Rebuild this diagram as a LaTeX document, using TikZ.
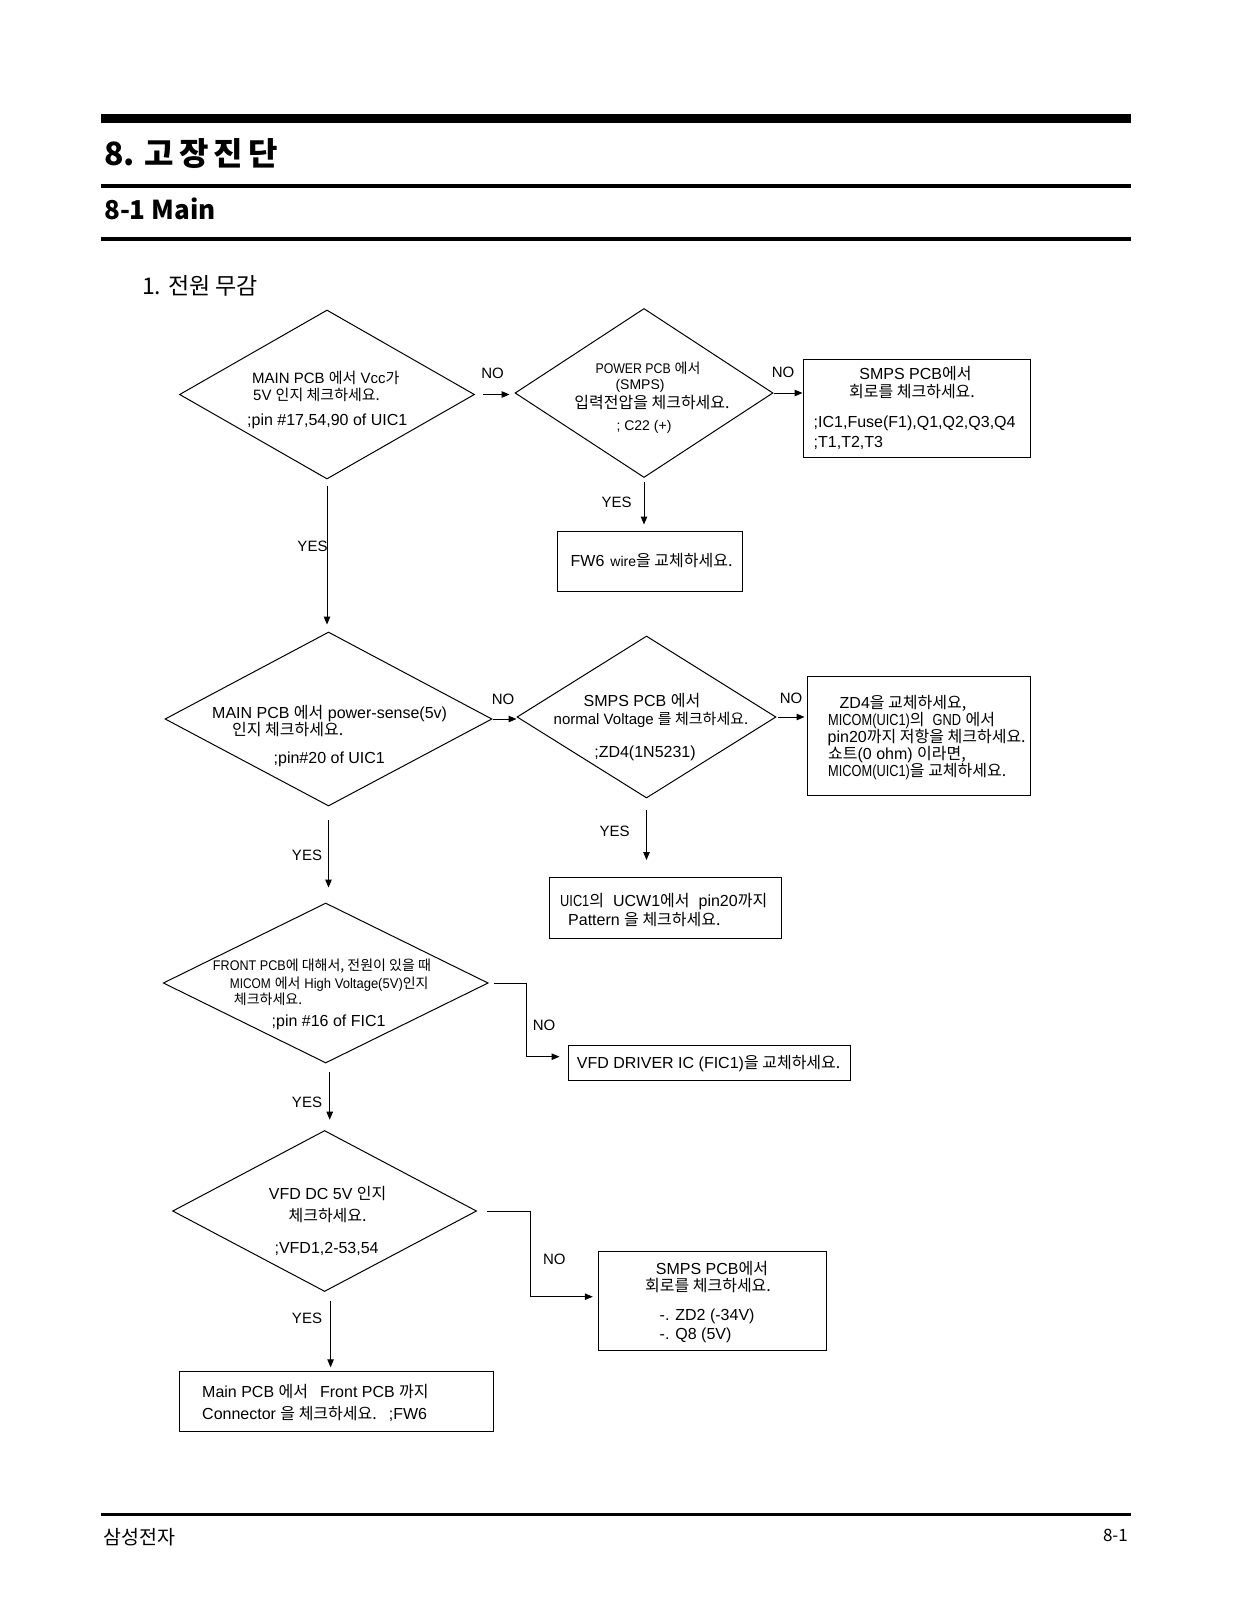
\documentclass[tikz,border=0pt]{standalone}
\usepackage{fontspec}
\usepackage{graphicx}
\setmainfont{Liberation Sans}
\newfontfamily\krf{Noto Sans CJK KR}[Scale=1.0]
\newfontfamily\krt{Noto Sans CJK KR}
\usetikzlibrary{shapes.geometric,arrows.meta,calc}
\newcommand\K[1]{{\krf #1}}
\newcommand\cnd[2]{\scalebox{#1}[1]{#2}}
\tikzset{
  dia/.style={draw, line width=1pt, diamond, inner sep=0pt, shape aspect=1},
  box/.style={draw, line width=1pt, inner sep=0pt},
  arr/.style={line width=1pt, -{Triangle[length=8pt,width=6.5pt]}},
  tl/.style={inner sep=0pt, anchor=base west},
  tc/.style={inner sep=0pt, anchor=base},
  tr/.style={inner sep=0pt, anchor=base east},
  f13/.style={font=\fontsize{13}{15}\selectfont},
  f14/.style={font=\fontsize{14}{16}\selectfont},
  f15/.style={font=\fontsize{15}{17}\selectfont},
  f16/.style={font=\fontsize{16}{19}\selectfont},
  bar/.style={fill=black},
}
\begin{document}
\begin{tikzpicture}[x=1pt,y=-1pt]
\useasboundingbox (0,0) rectangle (1235,1600);
\fill[white] (0,0) rectangle (1235,1600);

% header
\fill[bar] (101,114) rectangle (1131,122.7);
\fill[bar] (101,183.5) rectangle (1131,187.5);
\fill[bar] (101,236.7) rectangle (1131,240.7);
\node[tl, font={\krt\bfseries\fontsize{32}{36}\selectfont}] (title) at (104,165) {8.\hspace{10pt}고\hspace{5pt}장\hspace{5pt}진\hspace{5pt}단};
\node[tl, font={\krt\bfseries\fontsize{26}{30}\selectfont}] (sub) at (104,219) {8-1 Main};
\node[tl, font={\krt\fontsize{23}{26}\selectfont}] (sec) at (142,294) {1. 전원 무감};

% shapes
\node[dia, minimum width=295pt, minimum height=169pt] (D1) at (327,394.5) {};
\node[dia, minimum width=258pt, minimum height=169pt] (D2) at (644,393) {};
\node[box, minimum width=227pt, minimum height=98pt] (B1) at (916.5,408) {};
\node[box, minimum width=185pt, minimum height=60pt] (B2) at (650,561) {};
\node[dia, minimum width=327pt, minimum height=174pt] (D3) at (328.5,719) {};
\node[dia, minimum width=259pt, minimum height=162pt] (D4) at (646.5,717) {};
\node[box, minimum width=223pt, minimum height=119pt] (B3) at (919,736) {};
\node[box, minimum width=232pt, minimum height=60.5pt] (B4) at (665,907.75) {};
\node[dia, minimum width=325pt, minimum height=160pt] (D5) at (325.7,983) {};
\node[box, minimum width=282pt, minimum height=35pt] (B5) at (709,1062.5) {};
\node[dia, minimum width=304pt, minimum height=161pt] (D6) at (324.6,1211) {};
\node[box, minimum width=228.4pt, minimum height=99pt] (B6) at (712.5,1300.5) {};
\node[box, minimum width=313.4pt, minimum height=59.2pt] (B7) at (336.3,1401.4) {};

% connectors
\draw[arr, shorten <=8pt, shorten >=5pt] (D1.east) -- (D1.east -| D2.west);
\draw[arr] (D2.east) -- (D2.east -| B1.west);
\draw[arr, shorten <=4pt, shorten >=6pt] (D2.south) -- (D2.south |- B2.north);
\draw[arr, shorten <=6pt, shorten >=7pt] (D1.south) -- (D1.south |- D3.north);
\draw[arr] (D3.east) -- (D3.east -| D4.west);
\draw[arr, shorten <=1.5pt, shorten >=2.5pt] (D4.east) -- (D4.east -| B3.west);
\draw[arr, shorten <=11pt, shorten >=17pt] (D4.south) -- (D4.south |- B4.north);
\draw[arr, shorten <=13.6pt, shorten >=15pt] (D3.south) -- (D3.south |- D5.north);
\coordinate (e5) at (526,1056.7);
\draw[arr, shorten <=5pt, shorten >=8pt] (D5.east) -| (e5) -- (e5 -| B5.west);
\draw[arr, shorten <=8.7pt, shorten >=10.3pt] ([xshift=4pt]D5.south) -- ([xshift=4pt]D5.south |- D6.north);
\coordinate (e6) at (530,1296.7);
\draw[arr, shorten <=10pt, shorten >=5pt] (D6.east) -| (e6) -- (e6 -| B6.west);
\draw[arr, shorten <=9.4pt, shorten >=4pt] ([xshift=6pt]D6.south) -- ([xshift=6pt]D6.south |- B7.north);

% labels
\node[tc, f15] (n1) at (492.5,378.3) {NO};
\node[tc, f15] (n2) at (783,377) {NO};
\node[tc, f15] (y2) at (616.5,507.3) {YES};
\node[tc, f15] (y1) at (312.5,551.3) {YES};
\node[tc, f15] (n3) at (503,704.3) {NO};
\node[tc, f15] (n4) at (791,703.3) {NO};
\node[tc, f15] (y4) at (614.5,836.3) {YES};
\node[tc, f15] (y3) at (307,860.3) {YES};
\node[tc, f15] (n5) at (544,1030.3) {NO};
\node[tc, f15] (y5) at (307,1107.3) {YES};
\node[tc, f15] (n6) at (554.3,1264.6) {NO};
\node[tc, f15] (y6) at (307,1323) {YES};

% D1 text
\node[tl, f15] (d1a) at (252,383.3) {MAIN PCB \K{에서} Vcc\K{가}};
\node[tl, f15] (d1b) at (253,400.3) {5V \K{인지 체크하세요.}};
\node[tl, f16] (d1c) at (247,425.6) {;pin \#17,54,90 of UIC1};
% D2 text
\node[tc, f14] (d2a) at (648,373.5) {\cnd{0.88}{POWER PCB} \K{에서}};
\node[tc, f14] (d2b) at (640,389) {(SMPS)};
\node[tc, f16] (d2c) at (652,408.7) {\K{입력전압을 체크하세요.}};
\node[tc, f14] (d2d) at (644,430) {; C22 (+)};
% B1 text
\node[tc, f16] (b1a) at (915.5,379.6) {SMPS PCB\K{에서}};
\node[tc, f16] (b1b) at (912,397.1) {\K{회로를 체크하세요.}};
\node[tl, f16] (b1c) at (813.5,427.7) {;IC1,Fuse(F1),Q1,Q2,Q3,Q4};
\node[tl, f16] (b1d) at (813.5,447.7) {;T1,T2,T3};
% B2 text
\node[tl, f16] (b2a) at (570.5,566.6) {FW6\hspace{6pt}{\fontsize{14}{16}\selectfont wire}\K{을 교체하세요.}};
% D3 text
\node[tl, f16] (d3a) at (212,718) {MAIN PCB \K{에서} power-sense(5v)};
\node[tl, f16] (d3b) at (232,735) {\K{인지 체크하세요.}};
\node[tl, f16] (d3c) at (273.5,763.6) {;pin\#20 of UIC1};
% D4 text
\node[tc, f16] (d4a) at (642,706.5) {SMPS PCB \K{에서}};
\node[tc, f15] (d4b) at (651,724.3) {normal Voltage \K{를 체크하세요.}};
\node[tc, f16] (d4c) at (645,757.1) {;ZD4(1N5231)};
% B3 text
\node[tl, f16] (b3a) at (839.5,708.3) {ZD4\K{을 교체하세요,}};
\node[tl, f16] (b3b) at (828,725.3) {\cnd{0.8}{MICOM(UIC1)}\K{의}\hspace{8pt}\cnd{0.8}{GND} \K{에서}};
\node[tl, f16] (b3c) at (827.5,742.3) {pin20\K{까지 저항을 체크하세요.}};
\node[tl, f16] (b3d) at (828,759.3) {\K{쇼트}(0 ohm) \K{이라면,}};
\node[tl, f16] (b3e) at (828,776.8) {\cnd{0.8}{MICOM(UIC1)}\K{을 교체하세요.}};
% B4 text
\node[tl, f16] (b4a) at (560,906) {\cnd{0.8}{UIC1}\K{의}\hspace{9pt}UCW1\K{에서}\hspace{9pt}pin20\K{까지}};
\node[tl, f16] (b4b) at (568,925.5) {Pattern \K{을 체크하세요.}};
% D5 text
\node[tc, f14] (d5a) at (322,970.5) {\cnd{0.9}{FRONT PCB}\K{에 대해서, 전원이 있을 때}};
\node[tl, f14] (d5b) at (229.7,988) {\cnd{0.85}{MICOM} \K{에서} \cnd{0.93}{High Voltage(5V)}\K{인지}};
\node[tl, f14] (d5c) at (233.7,1004) {\K{체크하세요.}};
\node[tl, f16] (d5d) at (271.5,1026.6) {;pin \#16 of FIC1};
% B5 text
\node[tl, f16] (b5a) at (576.7,1068.1) {VFD DRIVER IC (FIC1)\K{을 교체하세요.}};
% D6 text
\node[tc, f16] (d6a) at (327.6,1199.5) {VFD DC 5V \K{인지}};
\node[tc, f16] (d6b) at (327.6,1221) {\K{체크하세요.}};
\node[tc, f16] (d6c) at (326.6,1253.5) {;VFD1,2-53,54};
% B6 text
\node[tc, f16] (b6a) at (712,1274) {SMPS PCB\K{에서}};
\node[tc, f16] (b6b) at (708,1291.5) {\K{회로를 체크하세요.}};
\node[tl, f16] (b6c) at (659.5,1320) {-. ZD2 (-34V)};
\node[tl, f16] (b6d) at (659.5,1339) {-. Q8 (5V)};
% B7 text
\node[tl, f16] (b7a) at (202,1397.6) {Main PCB \K{에서}\hspace{12pt}Front PCB \K{까지}};
\node[tl, f16] (b7b) at (202,1419.1) {Connector \K{을 체크하세요.}\hspace{12pt};FW6};

% footer
\fill[bar] (101,1513.2) rectangle (1131,1516.2);
\node[tl, font={\krt\fontsize{19.5}{22}\selectfont}] (foot) at (103,1544) {삼성전자};
\node[tr, font={\krt\fontsize{17}{20}\selectfont}] (pg) at (1128,1541) {8-1};
\end{tikzpicture}
\end{document}
